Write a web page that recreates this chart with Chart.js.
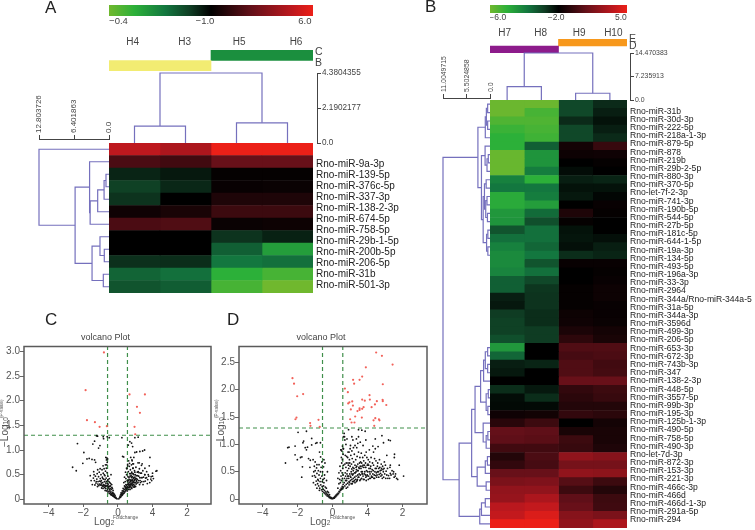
<!DOCTYPE html>
<html>
<head>
<meta charset="utf-8">
<title>miRNA heatmaps and volcano plots</title>
<script src="https://cdn.jsdelivr.net/npm/chart.js@4/dist/chart.umd.js"></script>
<style>
  html, body { margin: 0; padding: 0; background: #fff; }
  #page { position: relative; width: 755px; height: 530px; overflow: hidden; font-family: "Liberation Sans", sans-serif; color: #333; }
  #page canvas { position: absolute; }
  .note { position: absolute; white-space: nowrap; line-height: 1; }
  .note sub { font-size: 65%; vertical-align: -20%; line-height: 0; }
</style>
</head>
<body>
<div id="page"></div>
<script>
// Panel A heatmap, levels run from -1 (lime) through 0 (black) to 1 (red)
const rowsA = ["", "Rno-miR-9a-3p", "Rno-miR-139-5p", "Rno-miR-376c-5p", "Rno-miR-337-3p", "Rno-miR-138-2-3p", "Rno-miR-674-5p",
  "Rno-miR-758-5p", "Rno-miR-29b-1-5p", "Rno-miR-200b-5p", "Rno-miR-206-5p", "Rno-miR-31b", "Rno-miR-501-3p"];
const labelsA = rowsA.slice(1);
const columnsA = ["H4", "H3", "H5", "H6"];
const h4 = [0.8, 0.3, -0.12, -0.22, -0.17, 0.06, 0.3, 0, 0, -0.16, -0.37, -0.3];
const h3 = [0.72, 0.26, -0.08, -0.13, 0, 0.1, 0.32, 0, 0, -0.15, -0.42, -0.34];
const h5 = [1, 0.42, 0.02, 0.03, 0.12, 0.24, 0.04, -0.17, -0.35, -0.45, -0.75, -0.85];
const h6 = [1, 0.42, 0.02, 0.04, 0.12, 0.24, 0.05, -0.11, -0.65, -0.42, -0.85, -1];

// Panel B heatmap
const rowsB = ["Rno-miR-31b", "Rno-miR-30d-3p", "Rno-miR-222-5p", "Rno-miR-218a-1-3p", "Rno-miR-879-5p", "Rno-miR-878", "Rno-miR-219b",
  "Rno-miR-29b-2-5p", "Rno-miR-880-3p", "Rno-miR-370-5p", "Rno-let-7f-2-3p", "Rno-miR-741-3p", "Rno-miR-190b-5p", "Rno-miR-544-5p",
  "Rno-miR-27b-5p", "Rno-miR-181c-5p", "Rno-miR-644-1-5p", "Rno-miR-19a-3p", "Rno-miR-134-5p", "Rno-miR-493-5p", "Rno-miR-196a-3p",
  "Rno-miR-33-3p", "Rno-miR-2964", "Rno-miR-344a/Rno-miR-344a-5p", "Rno-miR-31a-5p", "Rno-miR-344a-3p", "Rno-miR-3596d", "Rno-miR-499-3p",
  "Rno-miR-206-5p", "Rno-miR-653-3p", "Rno-miR-672-3p", "Rno-miR-743b-3p", "Rno-miR-347", "Rno-miR-138-2-3p", "Rno-miR-448-5p",
  "Rno-miR-3557-5p", "Rno-miR-99b-3p", "Rno-miR-195-3p", "Rno-miR-125b-1-3p", "Rno-miR-490-5p", "Rno-miR-758-5p", "Rno-miR-490-3p",
  "Rno-let-7d-3p", "Rno-miR-872-3p", "Rno-miR-153-3p", "Rno-miR-221-3p", "Rno-miR-466c-3p", "Rno-miR-466d", "Rno-miR-466d-1-3p",
  "Rno-miR-291a-5p", "Rno-miR-294"];
const columnsB = ["H7", "H8", "H9", "H10"];
const h7 = [-0.98, -0.98, -0.88, -0.8, -0.75, -0.75, -0.97, -0.97, -0.97, -0.5, -0.45, -0.72, -0.72, -0.62, -0.6, -0.3, -0.42,
  -0.5, -0.55, -0.55, -0.52, -0.35, -0.35, -0.1, -0.08, -0.2, -0.22, -0.22, -0.28, -0.62, -0.38, -0.1, -0.08, 0, -0.15, -0.04, -0.03, 0.06,
  0.16, 0.4, 0.38, 0.26, 0.14, 0.2, 0.42, 0.5, 0.6, 0.62, 0.78, 0.82, 1];
const h8 = [-0.98, -0.85, -0.88, -0.85, -0.82, -0.35, -0.6, -0.6, -0.48, -0.75, -0.45, -0.48, -0.65, -0.4, -0.28, -0.42, -0.42,
  -0.38, -0.45, -0.3, -0.42, -0.25, -0.18, -0.17, -0.17, -0.15, -0.15, -0.2, -0.2, 0, 0, -0.12, 0, 0, -0.08, -0.15, -0.03, 0.07,
  0.24, 0.38, 0.36, 0.26, 0.3, 0.28, 0.42, 0.52, 0.6, 0.72, 0.82, 0.92, 1];
const h9 = [-0.25, -0.25, -0.14, -0.25, -0.25, 0.08, 0.05, 0, -0.04, -0.1, -0.06, -0.08, 0, 0.12, 0.02, -0.06, -0.07,
  -0.05, -0.15, 0.03, 0, 0, 0.02, 0.02, 0.02, 0.05, 0.06, 0.11, 0.18, 0.32, 0.28, 0.32, 0.32, 0.42, 0.2, 0.17, 0.14, 0.2,
  0, 0.1, 0.24, 0.22, 0.6, 0.48, 0.6, 0.34, 0.24, 0.38, 0.42, 0.55, 0.6];
const h10 = [-0.14, -0.1, -0.06, -0.1, -0.14, 0.22, 0.06, 0.02, 0, -0.12, -0.06, -0.02, 0.03, 0.02, 0, 0, -0.05,
  -0.1, -0.12, 0.03, 0.02, 0.03, 0.05, 0.05, 0.03, 0.03, 0.04, 0.08, 0.1, 0.32, 0.3, 0.26, 0.27, 0.42, 0.24, 0.22, 0.14, 0.17,
  0.08, 0.1, 0.1, 0.12, 0.55, 0.48, 0.58, 0.24, 0.14, 0.24, 0.25, 0.5, 0.72];

// Colour keys
const keyLevelsA = [-0.907, -0.059, 0.92];
const keyTextA = ["\u22120.4", "\u22121.0", "6.0"];
const keyLevelsB = [-0.887, -0.034, 0.91];
const keyTextB = ["\u22126.0", "\u22122.0", "5.0"];

// Sample header strips
const stripRowsA = ["C", "B"];
const stripSpansA = [[2, 4], [0, 2]];
const stripColorsA = ["#1b8f3e", "#f2ec72"];
const headTicksA = [0.465, 1.484, 2.55, 3.667];
const stripRowsB = ["E", "D"];
const stripSpansB = [[2, 4], [0, 2]];
const stripColorsB = ["#f7981c", "#8d1b8b"];
const headTicksB = [0.43, 1.48, 2.6, 3.6];

// Dendrograms: [child, child, height]. A child >= 0 is a leaf index, -k is merge number k (from 1)
const topTreeA = [[0, 1, 1.06], [2, 3, 1.265], [-1, -2, 4.3804355]];
const topTicksA = [0, 2.1902177, 4.3804355];
const topTickTextA = ["0.0", "2.1902177", "4.3804355"];
const leftTreeA = [[2, 3, 0.55], [-1, 4, 0.9], [-2, 5, 2.07], [-3, 6, 3.45], [1, -4, 3.55], [8, 9, 0.86], [7, -6, 1.65],
  [10, 11, 1.04], [-7, -8, 3.1], [-5, -9, 6.2], [0, -10, 12.803726]];
const leftTicksA = [0, 6.401863, 12.803726];
const leftTickTextA = ["0.0", "6.401863", "12.803726"];
const topTreeB = [[0, 1, 4.12], [2, 3, 2.08], [-1, -2, 14.470383]];
const topTicksB = [0, 7.235913, 14.470383];
const topTickTextB = ["0.0", "7.235913", "14.470383"];
const leftTreeB = [[0, 1, 0.55], [2, 3, 0.55], [-1, -2, 0.85], [-3, 4, 1.1], [6, 7, 0.4], [-5, 8, 0.7], [5, -6, 1.15], [9, 10, 0.9],
  [11, 12, 0.7], [13, 14, 0.6], [-9, -10, 1.0], [-8, -11, 1.3], [15, 16, 0.5], [17, 18, 0.5], [-13, -14, 0.8], [-12, -15, 1.6],
  [-7, -16, 2.0], [-4, -17, 2.83], [29, 30, 0.55], [31, 32, 0.55], [-19, -20, 1.1], [-21, 33, 1.5], [34, 35, 0.4], [36, 37, 0.5],
  [-23, -24, 0.9], [-22, -25, 2.2], [39, 40, 0.5], [-27, 41, 0.9], [38, -28, 1.6], [-26, -29, 3.5], [42, 43, 0.6], [-31, 44, 1.1],
  [45, 46, 0.9], [-32, -33, 3.0], [-30, -34, 4.3], [47, 48, 1.1], [-36, 49, 2.0], [-37, 50, 2.4], [-35, -38, 7.23], [-18, -39, 11.0049715]];
const leftTicksB = [0, 5.5024858, 11.0049715];
const leftTickTextB = ["0.0", "5.5024858", "11.0049715"];

// Volcano axes; the reference prints its x labels in this order
const volcanoXTicks = [-4, -2, 0, 2, 4];
const volcanoXText = ["\u22124", "\u22122", "0", "4", "2"];
const yTicksC = [0, 0.5, 1, 1.5, 2, 2.5, 3];
const yTextC = ["0", "0.5", "1.0", "1.5", "2.0", "2.5", "3.0"];
const yTicksD = [0, 0.5, 1, 1.5, 2, 2.5];
const yTextD = ["0", "0.5", "1.0", "1.5", "2.0", "2.5"];
const cutoffsC = [-0.6, 0.55, 1.3];
const cutoffsD = [-0.58, 0.58, 1.3];

const redC = [[-0.81, 2.98], [-1.87, 2.215], [-1.79, 1.606], [-1.33, 1.565], [-1.06, 1.47], [-0.64, 1.484], [0.67, 2.127], [1.56, 2.127],
  [1.1, 1.877], [1.27, 1.755], [0.96, 1.47], [1.0, 1.32]];
const blackC = [
  [-2.62, 0.65], [-2.41, 0.58], [-2.34, 1.13], [-2.03, 0.73], [-1.97, 0.95], [-1.79, 0.82], [-1.66, 0.83], [-1.45, 1.12], [-1.35, 1.18],
  [-1.24, 1.29], [-1.18, 1.28], [-1.04, 1.09], [-1.12, 1.04], [-0.85, 1.27], [-0.83, 1.23], [-0.62, 1.27], [-0.5, 1.25], [-1.35, 0.8], [-1.29, 0.75], [-1.5, 0.81],
  [-0.05, 0.01], [-0.1, 0.02], [-0.14, 0.03], [-0.18, 0.04], [-0.22, 0.05], [-0.26, 0.06], [-0.3, 0.07], [-0.34, 0.08], [-0.38, 0.09], [-0.42, 0.1],
  [-0.12, 0.04], [-0.2, 0.06], [-0.28, 0.09], [-0.36, 0.11], [-0.44, 0.13], [-0.5, 0.12], [-0.52, 0.16], [-0.58, 0.15], [-0.6, 0.19], [-0.66, 0.17],
  [-0.7, 0.22], [-0.48, 0.2], [-0.56, 0.23], [-0.64, 0.27], [-0.72, 0.26], [-0.78, 0.24], [-0.82, 0.3], [-0.4, 0.15], [-0.46, 0.17], [-0.74, 0.18],
  [-0.86, 0.22], [-0.9, 0.27], [-0.95, 0.33], [-1.0, 0.29], [-0.33, 0.12], [-0.24, 0.08],
  [-1.42, 0.43], [-1.36, 0.38], [-1.3, 0.47], [-1.27, 0.33], [-1.22, 0.41], [-1.2, 0.52], [-1.15, 0.36], [-1.12, 0.46], [-1.08, 0.55], [-1.05, 0.31],
  [-1.02, 0.42], [-0.98, 0.5], [-0.96, 0.38], [-0.92, 0.6], [-0.9, 0.45], [-0.88, 0.34], [-0.85, 0.53], [-0.82, 0.41], [-0.8, 0.62], [-0.78, 0.36],
  [-0.75, 0.48], [-0.72, 0.57], [-0.7, 0.33], [-0.68, 0.43], [-0.65, 0.7], [-0.63, 0.54], [-0.6, 0.38], [-0.58, 0.47], [-0.56, 0.31], [-0.54, 0.26],
  [-0.5, 0.42], [-0.47, 0.34], [-0.44, 0.27], [-0.4, 0.5], [-0.36, 0.3], [-0.32, 0.22], [-0.28, 0.18], [-0.62, 0.75], [-0.66, 0.8], [-0.64, 0.84],
  [-0.6, 0.82], [-0.67, 0.63], [-1.48, 0.3], [-1.55, 0.38], [-1.4, 0.56], [-1.1, 0.28], [-0.94, 0.23], [-1.18, 0.26], [-0.76, 0.28],
  [-1.33, 0.29], [-1.25, 0.36], [-1.16, 0.31], [-1.06, 0.37], [-1.0, 0.36], [-0.93, 0.29], [-0.87, 0.42], [-0.84, 0.27], [-0.79, 0.5], [-0.74, 0.4],
  [-0.71, 0.28], [-0.67, 0.36], [-0.62, 0.32], [-0.6, 0.28], [-0.57, 0.4], [-0.52, 0.36], [-0.49, 0.26], [-0.45, 0.22], [-0.42, 0.32], [-0.38, 0.2],
  [-0.35, 0.24], [-0.3, 0.14], [-0.25, 0.12], [-0.2, 0.1], [-0.16, 0.07], [-1.6, 0.48], [-1.38, 0.5], [-1.17, 0.6], [-1.03, 0.62], [-0.86, 0.68],
  [-0.72, 0.7], [-0.7, 0.85],
  [0.05, 0.01], [0.09, 0.03], [0.13, 0.04], [0.17, 0.05], [0.2, 0.07], [0.24, 0.08], [0.28, 0.1], [0.32, 0.12], [0.36, 0.13], [0.4, 0.15],
  [0.44, 0.17], [0.48, 0.19], [0.12, 0.06], [0.2, 0.1], [0.26, 0.13], [0.34, 0.16], [0.4, 0.2], [0.46, 0.22], [0.52, 0.21], [0.56, 0.25],
  [0.6, 0.24], [0.64, 0.28], [0.68, 0.26], [0.72, 0.3], [0.5, 0.28], [0.58, 0.31], [0.66, 0.35], [0.74, 0.36], [0.78, 0.33], [0.82, 0.4],
  [0.86, 0.35], [0.42, 0.25], [0.3, 0.17], [0.22, 0.12], [0.9, 0.42], [0.94, 0.38], [0.98, 0.45], [0.7, 0.2], [0.76, 0.24], [0.84, 0.28], [0.92, 0.3],
  [0.54, 0.17], [0.62, 0.2], [0.8, 0.22], [0.88, 0.25], [0.96, 0.27], [1.02, 0.26], [1.1, 0.33], [0.72, 0.38], [0.8, 0.44], [0.6, 0.33],
  [0.68, 0.3], [0.76, 0.31], [0.84, 0.33], [0.9, 0.36], [0.98, 0.34], [1.06, 0.38], [1.0, 0.41], [0.56, 0.37], [0.64, 0.4], [0.46, 0.3],
  [0.15, 0.09], [0.18, 0.13], [0.25, 0.17], [0.3, 0.22], [0.36, 0.2], [0.38, 0.27], [0.44, 0.24], [0.5, 0.24], [0.54, 0.3], [0.6, 0.38],
  [0.62, 0.3], [0.66, 0.24], [0.7, 0.33], [0.74, 0.27], [0.78, 0.38], [0.8, 0.3], [0.84, 0.38], [0.88, 0.3], [0.92, 0.34], [0.96, 0.4],
  [1.0, 0.34], [1.04, 0.42], [1.08, 0.36], [1.12, 0.4], [1.16, 0.34], [1.2, 0.38], [1.26, 0.44], [1.3, 0.34], [1.34, 0.44], [1.38, 0.36],
  [1.48, 0.45], [1.58, 0.37], [1.65, 0.44], [0.7, 0.47], [0.74, 0.52], [0.78, 0.45], [0.82, 0.52], [0.92, 0.5], [0.98, 0.55], [1.06, 0.48],
  [1.14, 0.48], [1.22, 0.54],
  [0.34, 0.34], [0.38, 0.45], [0.42, 0.36], [0.44, 0.55], [0.46, 0.42], [0.5, 0.5], [0.52, 0.62], [0.54, 0.38], [0.56, 0.71], [0.58, 0.46],
  [0.6, 0.56], [0.62, 0.78], [0.64, 0.44], [0.66, 0.67], [0.68, 0.52], [0.7, 0.4], [0.72, 0.6], [0.74, 0.85], [0.76, 0.48], [0.78, 0.7],
  [0.8, 0.55], [0.82, 0.78], [0.84, 0.46], [0.86, 0.63], [0.88, 0.52], [0.9, 0.72], [0.92, 0.44], [0.96, 0.58], [1.0, 0.5], [1.04, 0.65],
  [1.08, 0.42], [1.12, 0.55], [1.16, 0.74], [1.2, 0.47], [1.24, 0.62], [1.28, 0.38], [1.32, 0.53], [1.36, 0.69], [1.4, 0.44], [1.44, 0.58],
  [1.5, 0.36], [1.55, 0.5], [1.6, 0.43], [1.66, 0.56], [1.72, 0.4], [1.78, 0.47], [1.84, 0.34], [1.92, 0.46], [2.0, 0.53], [2.2, 0.57],
  [2.05, 0.42], [1.95, 0.38], [1.7, 0.32], [1.45, 0.3], [1.25, 0.3], [1.05, 0.31], [0.95, 0.25],
  [0.23, 1.25], [0.98, 1.25], [1.17, 1.26], [0.69, 1.17], [0.79, 1.14], [0.6, 1.1], [0.85, 1.07], [0.98, 0.95], [1.08, 0.96], [1.27, 0.97],
  [1.43, 0.98], [1.54, 1.0], [1.85, 0.85], [1.81, 0.68], [1.23, 0.74], [1.4, 0.72], [1.56, 0.63], [0.92, 0.85], [0.81, 0.8], [0.67, 0.73],
  [0.86, 0.72], [0.57, 0.68], [0.5, 0.63], [0.88, 0.63], [1.17, 0.56], [1.36, 0.53], [1.56, 0.5], [1.75, 0.5], [2.25, 0.58], [2.0, 0.47],
  [1.9, 0.41], [0.27, 0.87], [0.33, 0.86]
];

const redD = [[2.49, 2.68], [2.82, 2.62], [3.43, 2.46], [1.9, 2.41], [1.69, 2.24], [1.54, 2.18], [1.17, 2.18], [1.23, 2.11], [2.87, 2.1],
  [0.7, 2.02], [0.87, 1.955], [2.11, 1.9], [1.69, 1.82], [1.84, 1.8], [2.13, 1.82], [2.53, 1.79], [2.86, 1.815], [2.87, 1.79], [1.12, 1.785],
  [0.96, 1.77], [0.89, 1.75], [1.16, 1.71], [3.07, 1.72], [1.54, 1.66], [1.77, 1.68], [1.69, 1.65], [2.23, 1.68], [2.42, 1.73], [1.04, 1.64],
  [1.42, 1.61], [1.54, 1.63], [1.29, 1.51], [1.67, 1.49], [1.0, 1.46], [1.08, 1.4], [1.25, 1.4], [2.34, 1.44], [2.44, 1.48], [2.65, 1.46],
  [2.68, 1.44], [2.38, 1.34], [-2.3, 2.21], [-2.21, 2.11], [-2.03, 1.88], [-1.69, 1.92], [-2.07, 1.49], [-2.13, 1.46], [-1.29, 1.39],
  [-1.27, 1.34], [-0.81, 1.45], [-0.74, 1.32]];
const blackD = [
  [-2.7, 0.66], [-2.57, 0.94], [-2.5, 0.95], [-2.15, 0.97], [-2.15, 0.81], [-1.98, 1.22], [-1.5, 1.24], [-1.66, 1.06], [-1.7, 1.03], [-1.57, 0.94],
  [-1.5, 0.9], [-1.44, 0.95], [-1.2, 1.11], [-0.97, 1.02], [-0.9, 1.03], [-0.7, 1.03], [-1.2, 0.99], [-1.84, 0.76], [-1.76, 0.77], [-2.02, 0.72],
  [-1.73, 0.59], [-1.77, 0.4], [-1.38, 0.74], [-1.28, 0.71], [-1.12, 0.72], [-1.0, 0.68], [-0.75, 0.86], [-0.69, 0.77], [-0.44, 0.66], [-0.52, 0.59],
  [-1.05, 0.6], [-1.0, 0.52], [-0.92, 0.57], [-1.08, 0.5], [-1.04, 0.43], [-0.98, 0.4], [-0.9, 0.47], [-0.85, 0.36], [-0.82, 0.52], [-0.78, 0.44],
  [-0.72, 0.32], [-0.66, 0.58], [-0.62, 0.42], [-0.58, 0.5], [-0.55, 0.36], [-0.5, 0.3], [-0.46, 0.44], [-0.78, 0.63], [-0.94, 0.33], [-0.7, 0.5],
  [-0.86, 0.28], [-0.8, 0.24], [-0.74, 0.2], [-0.68, 0.26], [-0.64, 0.17], [-0.6, 0.23], [-0.58, 0.14], [-0.54, 0.18], [-0.5, 0.12], [-0.46, 0.16],
  [-0.44, 0.1], [-0.4, 0.13], [-0.38, 0.08], [-0.34, 0.11], [-0.32, 0.06], [-0.28, 0.08], [-0.26, 0.05], [-0.22, 0.06], [-0.2, 0.03], [-0.16, 0.04],
  [-0.14, 0.02], [-0.1, 0.03], [-0.08, 0.01], [-0.05, 0.02], [-0.02, 0.01], [0.02, 0.01], [0.05, 0.02], [0.08, 0.03], [0.1, 0.02], [0.13, 0.05],
  [-1.1, 0.3], [-1.16, 0.42], [-1.3, 0.58], [-0.98, 0.26], [-0.9, 0.2], [-0.82, 0.34], [-0.76, 0.16], [-0.7, 0.38], [-0.6, 0.32], [-0.52, 0.24],
  [-0.48, 0.38], [-0.42, 0.22], [-0.36, 0.2], [-0.3, 0.14], [-0.24, 0.12], [-0.18, 0.08], [-0.9, 0.63], [-0.62, 0.68], [-0.5, 0.72], [-0.3, 0.5], [-0.35, 0.34],
  [0.16, 0.04], [0.19, 0.07], [0.22, 0.06], [0.25, 0.09], [0.28, 0.08], [0.31, 0.11], [0.34, 0.1], [0.37, 0.14], [0.4, 0.13], [0.43, 0.17],
  [0.46, 0.16], [0.49, 0.2], [0.52, 0.18], [0.55, 0.23], [0.58, 0.2], [0.6, 0.27], [0.62, 0.22], [0.3, 0.2], [0.36, 0.28], [0.4, 0.36],
  [0.44, 0.3], [0.48, 0.42], [0.5, 0.34], [0.54, 0.48], [0.56, 0.38], [0.58, 0.56], [0.6, 0.44], [0.62, 0.62], [0.46, 0.52], [0.52, 0.66],
  [0.36, 0.48], [0.3, 0.38], [0.42, 0.6], [0.5, 0.76], [0.56, 0.72], [0.6, 0.82], [0.48, 0.9], [0.52, 0.88], [0.56, 0.97], [0.6, 0.92],
  [0.62, 1.14], [0.68, 1.14], [0.91, 1.27], [1.1, 1.14], [1.16, 1.08], [1.48, 1.27], [1.67, 1.26], [1.86, 1.24], [1.48, 1.14], [1.58, 1.04],
  [2.44, 1.1], [2.82, 1.16], [3.2, 1.08], [3.3, 1.07], [2.91, 1.03], [2.3, 0.97], [2.44, 0.92], [1.19, 0.94], [1.0, 0.92], [1.38, 0.94],
  [0.62, 0.92], [0.47, 0.9], [1.92, 0.86], [2.34, 0.86], [2.4, 0.74], [3.1, 0.8], [3.54, 0.82], [3.53, 0.76], [3.81, 0.62], [4.06, 0.42],
  [3.58, 0.42], [3.49, 0.5], [3.3, 0.47], [0.66, 1.2], [0.7, 1.08], [0.76, 1.0], [0.82, 1.1], [0.88, 0.86], [0.72, 0.8], [0.8, 0.78],
  [0.66, 0.3], [0.7, 0.24], [0.74, 0.34], [0.78, 0.27], [0.82, 0.38], [0.86, 0.29], [0.9, 0.42], [0.94, 0.32], [0.98, 0.46], [1.02, 0.34],
  [1.06, 0.5], [1.1, 0.36], [1.14, 0.44], [1.18, 0.38], [1.22, 0.56], [1.26, 0.4], [1.3, 0.48], [1.34, 0.42], [1.38, 0.6], [1.42, 0.36],
  [1.46, 0.52], [1.5, 0.4], [1.54, 0.66], [1.58, 0.44], [1.62, 0.56], [1.66, 0.38], [1.7, 0.5], [1.74, 0.42], [1.78, 0.7], [1.82, 0.46],
  [1.86, 0.58], [1.9, 0.4], [1.94, 0.52], [1.98, 0.44], [2.02, 0.64], [2.06, 0.42], [2.1, 0.5], [2.14, 0.46], [2.18, 0.6], [2.22, 0.42],
  [2.26, 0.54], [2.3, 0.46], [2.34, 0.62], [2.38, 0.44], [2.42, 0.5], [2.46, 0.43], [2.5, 0.56], [2.54, 0.44], [2.58, 0.66], [2.62, 0.5],
  [2.66, 0.45], [2.7, 0.58], [2.74, 0.47], [2.78, 0.53], [2.82, 0.44], [2.86, 0.6], [2.9, 0.5], [2.94, 0.56], [2.98, 0.46], [3.02, 0.62],
  [3.06, 0.51], [3.1, 0.44], [3.14, 0.56], [3.2, 0.43], [0.72, 0.48], [0.76, 0.58], [0.84, 0.52], [0.88, 0.66], [0.92, 0.56], [0.96, 0.72],
  [1.0, 0.6], [1.04, 0.8], [1.08, 0.64], [1.12, 0.74], [1.16, 0.58], [1.2, 0.68], [1.24, 0.82], [1.28, 0.62], [1.32, 0.72], [1.36, 0.54],
  [1.4, 0.78], [1.44, 0.64], [1.48, 0.86], [1.52, 0.56], [1.56, 0.76], [1.6, 0.68], [1.64, 0.84], [1.68, 0.6], [1.72, 0.76], [1.76, 0.58],
  [1.84, 0.8], [1.88, 0.66], [1.96, 0.76], [2.04, 0.72], [2.12, 0.68], [2.2, 0.76], [2.28, 0.66], [2.48, 0.7], [2.56, 0.6], [2.68, 0.72],
  [2.78, 0.64], [2.96, 0.68], [1.0, 0.42], [1.1, 0.46], [1.2, 0.32], [1.32, 0.36], [1.44, 0.44], [1.56, 0.34], [1.68, 0.46], [1.8, 0.36],
  [1.92, 0.34], [2.04, 0.36], [2.16, 0.38], [2.28, 0.4], [2.4, 0.38], [2.52, 0.4], [2.64, 0.4], [2.76, 0.42], [0.82, 0.46], [0.92, 0.38],
  [1.06, 0.28], [0.78, 0.2], [0.86, 0.22], [0.94, 0.26], [1.14, 0.32], [1.24, 0.34], [1.36, 0.32],
  [3.28, 0.58], [3.34, 0.44], [3.4, 0.52], [3.46, 0.46], [3.52, 0.4], [3.6, 0.46], [3.66, 0.38], [3.72, 0.36], [3.26, 0.38], [3.16, 0.38],
  [3.04, 0.38], [2.92, 0.4], [2.84, 0.38], [3.3, 0.62], [0.68, 0.38], [0.74, 0.42], [0.8, 0.34], [0.86, 0.42], [0.96, 0.3], [1.04, 0.4],
  [1.12, 0.28], [1.18, 0.46], [1.28, 0.3], [1.34, 0.5], [1.4, 0.34], [1.46, 0.4], [1.52, 0.46], [1.6, 0.36], [1.64, 0.5], [1.72, 0.46],
  [1.76, 0.36], [1.84, 0.5], [1.88, 0.44], [1.96, 0.42], [2.0, 0.5], [2.08, 0.56], [2.12, 0.38], [2.2, 0.5], [2.24, 0.4], [2.32, 0.52],
  [2.36, 0.38], [2.44, 0.56], [2.5, 0.48], [2.56, 0.5], [2.64, 0.56], [2.72, 0.52], [2.8, 0.56], [2.88, 0.54], [1.1, 0.55], [1.18, 0.52],
  [1.26, 0.48], [1.34, 0.58], [1.42, 0.52], [1.5, 0.58], [1.58, 0.6], [1.66, 0.66], [1.74, 0.62], [1.82, 0.62], [1.9, 0.58], [1.98, 0.62],
  [2.06, 0.62], [2.16, 0.56], [0.9, 0.62], [0.98, 0.66], [0.7, 0.64], [0.78, 0.66], [0.86, 0.76], [0.94, 0.86], [1.02, 0.98], [1.1, 0.88],
  [1.28, 0.98], [1.44, 1.02], [1.36, 1.1], [1.74, 0.98], [1.9, 1.08], [2.1, 0.9], [2.6, 0.96]
];

Chart.defaults.font.family = '"Liberation Sans", sans-serif';
Chart.defaults.animation = false;
Chart.defaults.plugins.legend.display = false;
Chart.defaults.plugins.tooltip.enabled = false;

const page = document.getElementById("page");
const treeColor = "#7570bd";
const axisColor = "#444";
const colorStops = [[-1, 112, 184, 46], [-0.75, 44, 176, 57], [-0.45, 19, 119, 63], [-0.2, 15, 60, 35], [0, 0, 0, 0],
  [0.4, 100, 16, 25], [0.8, 190, 24, 30], [1, 236, 32, 24]];

function levelColor(level) {
  let i = 0;
  while (i < colorStops.length - 2 && level > colorStops[i + 1][0]) i++;
  const a = colorStops[i];
  const b = colorStops[i + 1];
  const t = (level - a[0]) / (b[0] - a[0]);
  const mix = (k) => Math.round(a[k] + (b[k] - a[k]) * t);
  return `rgb(${mix(1)},${mix(2)},${mix(3)})`;
}

function mount(x, y, width, height, config) {
  const canvas = document.createElement("canvas");
  canvas.width = width;
  canvas.height = height;
  canvas.style.left = x + "px";
  canvas.style.top = y + "px";
  canvas.style.width = width + "px";
  canvas.style.height = height + "px";
  page.appendChild(canvas);
  config.options.responsive = false;
  config.options.layout = Object.assign({ autoPadding: false }, config.options.layout);
  return new Chart(canvas, config);
}

function note(html, x, y, size, extra) {
  const span = document.createElement("span");
  span.className = "note";
  span.innerHTML = html;
  span.style.left = x + "px";
  span.style.top = y + "px";
  span.style.fontSize = size + "px";
  Object.assign(span.style, extra || {});
  page.appendChild(span);
}

// Fixed thickness and no label overhang, so that plot areas land where they should
function pinScale(scale, thickness) {
  if (scale.isHorizontal()) scale.height = thickness;
  else scale.width = thickness;
  scale.paddingTop = 0;
  scale.paddingBottom = 0;
  scale.paddingLeft = 0;
  scale.paddingRight = 0;
}

// Axis with hand placed ticks
function fixedAxis(values, text, thickness, options) {
  return Object.assign({
    afterBuildTicks: (scale) => {
      scale.ticks = values.map((value) => ({ value }));
    },
    afterFit: (scale) => pinScale(scale, thickness),
  }, options, {
    ticks: Object.assign({
      autoSkip: false,
      maxRotation: 0,
      callback: (value, index) => text[index],
    }, options.ticks),
  });
}

function colorKey(x, y, width, barHeight, levels, text, fontSize) {
  mount(x, y, width, barHeight + 12, {
    type: "bar",
    data: {
      labels: ["key"],
      datasets: [{
        data: [[-1, 1]],
        barPercentage: 1,
        categoryPercentage: 1,
        backgroundColor: (context) => {
          const area = context.chart.chartArea;
          if (!area) return "#000";
          const gradient = context.chart.ctx.createLinearGradient(area.left, 0, area.right, 0);
          colorStops.forEach((stop) => gradient.addColorStop((stop[0] + 1) / 2, levelColor(stop[0])));
          return gradient;
        },
      }],
    },
    options: {
      indexAxis: "y",
      scales: {
        y: { display: false },
        x: fixedAxis(levels, text, 12, {
          min: -1,
          max: 1,
          grid: { display: false, drawTicks: false },
          border: { display: false },
          ticks: { padding: 0, color: axisColor, font: { size: fontSize } },
        }),
      },
    },
  });
}

function sampleStrip(x, y, width, headHeight, headPad, stripHeight, names, ticks, rows, spans, colors) {
  mount(x, y, width + 16, headHeight + stripHeight + 6, {
    type: "bar",
    data: {
      labels: rows,
      datasets: [{ data: spans, backgroundColor: colors, barPercentage: 1, categoryPercentage: 1 }],
    },
    options: {
      indexAxis: "y",
      layout: { padding: { bottom: 6 } },
      scales: {
        x: fixedAxis(ticks, names, headHeight, {
          position: "top",
          min: 0,
          max: 4,
          grid: { display: false, drawTicks: false },
          border: { display: false },
          ticks: { padding: headPad, color: axisColor, font: { size: 10 } },
        }),
        y: {
          position: "right",
          afterFit: (scale) => pinScale(scale, 16),
          grid: { display: false, drawTicks: false },
          border: { display: false },
          ticks: { autoSkip: false, padding: 2, labelOffset: -3, color: axisColor, font: { size: 10.5 } },
        },
      },
    },
  });
}

function heatmap(x, y, plotWidth, labelWidth, height, room, rowCount, columns, labels, labelStart, labelStep, fontSize) {
  const labelTicks = labels.map((_, i) => labelStart + i * labelStep);
  mount(x, y, plotWidth + labelWidth, height + room, {
    type: "bar",
    data: {
      labels: Array.from({ length: rowCount }, (_, i) => i),
      datasets: columns.map((column) => ({
        data: column.map(() => 1),
        backgroundColor: column.map(levelColor),
        barPercentage: 1,
        categoryPercentage: 1,
      })),
    },
    options: {
      indexAxis: "y",
      layout: { padding: { bottom: room } },
      scales: {
        x: { display: false, stacked: true, min: 0, max: columns.length },
        y: { display: false, stacked: true },
        rowNames: fixedAxis(labelTicks, labels, labelWidth, {
          type: "linear",
          axis: "y",
          position: "right",
          min: 0,
          max: rowCount,
          reverse: true,
          grid: { display: false, drawTicks: false },
          border: { display: false },
          ticks: { padding: 3, color: "#222", font: { size: fontSize } },
        }),
      },
    },
  });
}

// Turn merges into polylines of [position, height]
function treeLines(merges) {
  const nodes = [];
  const lines = [];
  merges.forEach(([left, right, height]) => {
    const pick = (child) => (child < 0 ? nodes[-child - 1] : { pos: child + 0.5, height: 0 });
    const a = pick(left);
    const b = pick(right);
    lines.push([[a.pos, a.height], [a.pos, height], [b.pos, height], [b.pos, b.height]]);
    nodes.push({ pos: (a.pos + b.pos) / 2, height });
  });
  return lines;
}

function treeDatasets(merges, flip) {
  return treeLines(merges).map((line) => ({
    data: line.map(([pos, height]) => (flip ? { x: height, y: pos } : { x: pos, y: height })),
    showLine: true,
    pointRadius: 0,
    borderColor: treeColor,
    borderWidth: 1.2,
    clip: false,
  }));
}

function topTree(x, y, plotWidth, plotHeight, columnWidth, merges, ticks, text, fontSize) {
  const pad = 6;
  mount(x, y - pad, plotWidth + 60, plotHeight + pad * 2, {
    type: "scatter",
    data: { datasets: treeDatasets(merges, false) },
    options: {
      layout: { padding: { top: pad, bottom: pad } },
      scales: {
        x: { display: false, min: 0, max: plotWidth / columnWidth },
        y: fixedAxis(ticks, text, 60, {
          position: "right",
          min: ticks[0],
          max: ticks[ticks.length - 1],
          grid: { drawOnChartArea: false, tickLength: 4, tickColor: axisColor },
          border: { color: axisColor, width: 1 },
          ticks: { padding: 1, color: axisColor, font: { size: fontSize } },
        }),
      },
    },
  });
}

function leftTree(x, axisY, plotWidth, plotHeight, rowCount, rowHeight, gap, merges, ticks, text, fontSize) {
  const padLeft = 8;
  const axisHeight = 52;
  mount(x - padLeft, axisY - axisHeight, plotWidth + padLeft + 6, axisHeight + plotHeight, {
    type: "scatter",
    data: { datasets: treeDatasets(merges, true) },
    options: {
      layout: { padding: { left: padLeft, right: 6 } },
      scales: {
        y: { display: false, min: -gap / rowHeight, max: rowCount, reverse: true },
        x: fixedAxis(ticks, text, axisHeight, {
          position: "top",
          reverse: true,
          min: ticks[0],
          max: ticks[ticks.length - 1],
          grid: { drawOnChartArea: false, tickLength: 4, tickColor: axisColor },
          border: { color: axisColor, width: 1 },
          ticks: { padding: 2, labelOffset: 9, minRotation: 90, maxRotation: 90, color: axisColor, font: { size: fontSize } },
        }),
      },
    },
  });
}

const boxPlugin = {
  id: "box",
  afterDraw(chart) {
    const { ctx, chartArea: a } = chart;
    ctx.save();
    ctx.strokeStyle = "#5a5a5a";
    ctx.lineWidth = 1.5;
    ctx.strokeRect(a.left, a.top, a.right - a.left, a.bottom - a.top);
    ctx.restore();
  },
};

function volcano(x, width, xMin, xMax, yMin, yMax, yTicks, yText, black, red, cutoffs) {
  const rule = (data) => ({
    data,
    showLine: true,
    pointRadius: 0,
    borderColor: "#3f8f4a",
    borderWidth: 1.2,
    borderDash: [4, 3],
  });
  const toPoints = (pairs) => pairs.map(([px, py]) => ({ x: px, y: py }));
  mount(x, 332, width + 4, 198, {
    type: "scatter",
    plugins: [boxPlugin],
    data: {
      datasets: [
        { data: toPoints(black), pointRadius: 0.9, pointBorderWidth: 0, pointBackgroundColor: "#151515" },
        { data: toPoints(red), pointRadius: 1.1, pointBorderWidth: 0, pointBackgroundColor: "#f2625a" },
        rule([{ x: cutoffs[0], y: yMin }, { x: cutoffs[0], y: yMax }]),
        rule([{ x: cutoffs[1], y: yMin }, { x: cutoffs[1], y: yMax }]),
        rule([{ x: xMin, y: cutoffs[2] }, { x: xMax, y: cutoffs[2] }]),
      ],
    },
    options: {
      layout: { padding: { right: 4 } },
      plugins: {
        title: {
          display: true,
          text: "volcano Plot",
          color: axisColor,
          font: { size: 9, weight: "normal" },
          padding: { top: 0, bottom: 3.7 },
        },
      },
      scales: {
        x: fixedAxis(volcanoXTicks, volcanoXText, 26, {
          min: xMin,
          max: xMax,
          grid: { display: true, drawOnChartArea: false, tickLength: 3, tickColor: "#666" },
          border: { display: false },
          ticks: { padding: 0, color: "#555", font: { size: 10 } },
        }),
        y: fixedAxis(yTicks, yText, 24, {
          min: yMin,
          max: yMax,
          grid: { display: true, drawOnChartArea: false, tickLength: 4, tickColor: "#666" },
          border: { display: false },
          ticks: { padding: 0, color: "#555", font: { size: 10 } },
        }),
      },
    },
  });
}

// Panel A
colorKey(109, 5, 204, 11, keyLevelsA, keyTextA, 9.5);
sampleStrip(109, 34, 204, 16, 2, 21, columnsA, headTicksA, stripRowsA, stripSpansA, stripColorsA);
topTree(109, 73, 208, 70, 51, topTreeA, topTicksA, topTickTextA, 8.2);
leftTree(39, 139, 70, 154, 12, 12.5, 4, leftTreeA, leftTicksA, leftTickTextA, 8);
heatmap(109, 143, 204, 100, 150, 6, 12, [h4, h3, h5, h6], labelsA, 1.3, 0.958, 10);

// Panel B
colorKey(490, 5, 137, 8, keyLevelsB, keyTextB, 8.5);
sampleStrip(490, 22, 137, 17, 0, 14, columnsB, headTicksB, stripRowsB, stripSpansB, stripColorsB);
topTree(490, 53, 140, 47, 34.25, topTreeB, topTicksB, topTickTextB, 6.9);
leftTree(443, 98, 47, 430, 51, 8.39, 2, leftTreeB, leftTicksB, leftTickTextB, 6.9);
heatmap(490, 100, 137, 125, 428, 2, 51, [h7, h8, h9, h10], rowsB, 0.87, 0.993, 8.6);

// Panels C and D
volcano(0, 211, -5.43, 5.38, -0.095, 3.1, yTicksC, yTextC, blackC, redC, cutoffsC);
volcano(215, 212, -5.36, 5.4, -0.09, 2.79, yTicksD, yTextD, blackD, redD, cutoffsD);

note("A", 45, -1, 17, { color: "#222" });
note("B", 425, -2, 17, { color: "#222" });
note("C", 45, 311, 17, { color: "#222" });
note("D", 227, 311, 17, { color: "#222" });

note("Log<sub>2</sub>", 94, 517, 10, { color: "#555" });
note("Foldchange", 113, 516, 4.8, { color: "#555" });
note("Log<sub>2</sub>", 310, 517, 10, { color: "#555" });
note("Foldchange", 330, 516, 4.8, { color: "#555" });

const sideways = { transform: "rotate(-90deg)", transformOrigin: "left top", color: "#555" };
note("\u2212Log<sub>10</sub>", 0, 447, 10, sideways);
note("(P-value)", 0, 418, 4.6, sideways);
note("\u2212Log<sub>10</sub>", 216, 447, 10, sideways);
note("(P-value)", 215, 418, 4.6, sideways);
</script>
</body>
</html>
